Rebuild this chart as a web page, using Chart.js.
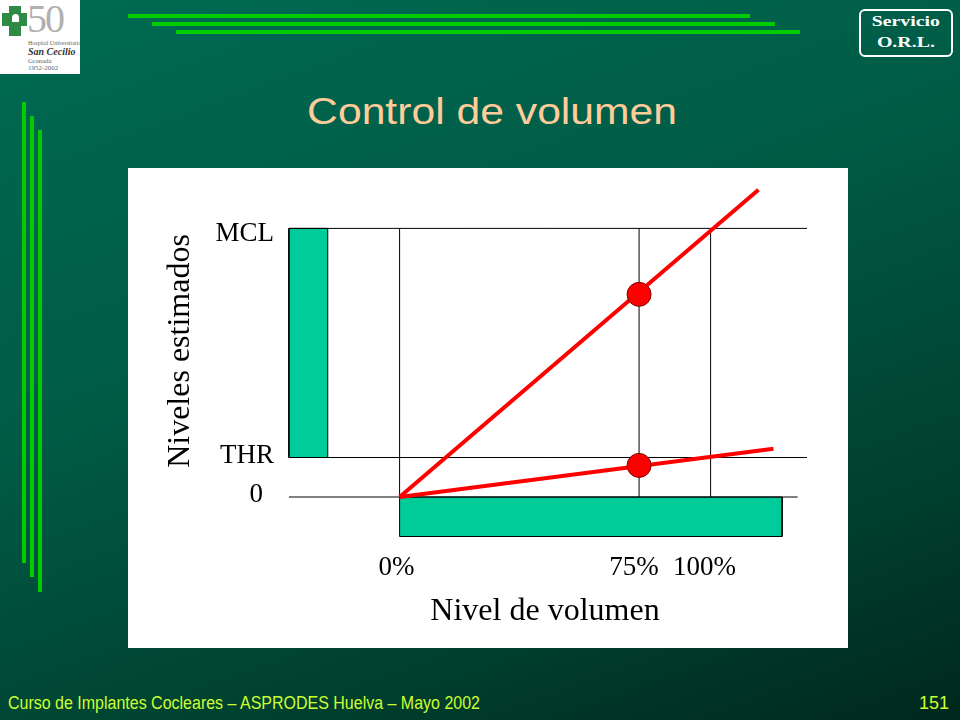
<!DOCTYPE html>
<html lang="es">
<head>
<meta charset="utf-8">
<title>Control de volumen</title>
<script src="https://cdn.jsdelivr.net/npm/chart.js@4.4.1/dist/chart.umd.min.js"></script>
<style>
html,body{margin:0;padding:0;}
body{width:960px;height:720px;overflow:hidden;position:relative;
  background:linear-gradient(160deg,#006a52 0%,#005c46 40%,#00412f 75%,#00281d 100%);
  font-family:"Liberation Sans",Arial,sans-serif;}
.abs{position:absolute;}
.barra{position:absolute;background:#00cc00;}
#logo{left:0;top:0;width:80px;height:74px;background:#fff;overflow:hidden;}
#logo .cv{position:absolute;left:9px;top:6px;width:12px;height:30px;background:#2f8a45;}
#logo .ch{position:absolute;left:2px;top:13px;width:25px;height:13px;background:#2f8a45;}
#logo .hueco{position:absolute;left:12px;top:14px;width:7px;height:8px;border-radius:50% 50% 0 0;background:#fff;}
#logo .cinco{position:absolute;left:27px;top:-5px;font:40px "Liberation Serif",serif;color:#b0b0b0;letter-spacing:-2px;}
#logo .t{position:absolute;left:28px;font-family:"Liberation Serif",serif;color:#666;white-space:nowrap;}
#servicio{left:859px;top:9px;width:90px;height:44px;border:2px solid #fff;border-radius:6px;
  color:#fff;font:bold 15px "Liberation Serif",serif;text-align:center;line-height:21px;}
#titulo{left:0;top:91px;width:984px;text-align:center;color:#ffcc99;font-size:36px;white-space:nowrap;}
#titulo span{display:inline-block;transform-origin:center;}
#caja{left:128px;top:168px;width:720px;height:480px;background:#fff;}
#pie{left:8px;top:693px;color:#ccff33;font-size:18px;white-space:nowrap;transform-origin:left center;}
#num{left:919px;top:693px;color:#ccff33;font-size:18px;}
</style>
</head>
<body>
<div id="logo" class="abs">
  <div class="cv"></div><div class="ch"></div><div class="hueco"></div>
  <div class="cinco">50</div>
  <div class="t" style="top:40px;font-size:6px;">Hospital Universitario</div>
  <div class="t" style="top:46px;font-size:10px;font-weight:bold;font-style:italic;color:#333;">San Cecilio</div>
  <div class="t" style="top:57px;font-size:7px;">Granada</div>
  <div class="t" style="top:64px;font-size:7px;">1952-2002</div>
</div>

<div class="barra" style="left:128px;top:14px;width:622px;height:4px;"></div>
<div class="barra" style="left:152px;top:22px;width:623px;height:4px;"></div>
<div class="barra" style="left:176px;top:30px;width:624px;height:4px;"></div>
<div class="barra" style="left:22px;top:102px;width:4px;height:461px;"></div>
<div class="barra" style="left:30px;top:116px;width:4px;height:461px;"></div>
<div class="barra" style="left:38px;top:130px;width:4px;height:462px;"></div>

<div id="servicio" class="abs"><span>Servicio</span><br><span>O.R.L.</span></div>

<div id="titulo" class="abs"><span>Control de volumen</span></div>

<div id="caja" class="abs"><canvas id="grafico" width="720" height="480"></canvas></div>

<div id="pie" class="abs">Curso de Implantes Cocleares – ASPRODES Huelva – Mayo 2002</div>
<div id="num" class="abs">151</div>

<script>
// ejes (% de volumen / niveles estimados); el 75% del esquema cae un poco a la derecha
const pctTicks=[0,77,100];
const pctLabels=['0%','75%','100%'];
const nivelTicks=[68,10,0];
const nivelLabels=['MCL','THR','0'];
const xMin=-40, xMax=140, yMin=-20, yMax=80;

// rectas de mapeo (volumen -> nivel)
const rectaAlta=[{x:0,y:0},{x:115.4,y:77.8}];
const rectaBaja=[{x:0,y:0},{x:120.2,y:12.2}];
const puntos75=[{x:77,y:51.3},{x:77,y:8}];

// rangos (barras verdes)
const rangoNiveles=[{x:-35.6,y:10},{x:-23.1,y:10},{x:-23.1,y:68},{x:-35.6,y:68},{x:-35.6,y:10}];
const rangoVolumen=[{x:0,y:0},{x:123,y:0},{x:123,y:-10},{x:0,y:-10},{x:0,y:0}];

// líneas de referencia
const lineaMCL=[{x:-35.6,y:68},{x:131,y:68}];
const lineaTHR=[{x:-35.6,y:10},{x:131,y:10}];
const lineaCero=[{x:-35.6,y:0},{x:128,y:0}];
const vert0=[{x:0,y:0},{x:0,y:68}];
const vert75=[{x:77,y:0},{x:77,y:68}];
const vert100=[{x:100,y:0},{x:100,y:68}];

const VERDE='#00cc99', ROJO='#ff0000';
const serif='"Liberation Serif","Times New Roman",serif';

function linea(data,color,ancho,orden){
  return {data,borderColor:color,borderWidth:ancho,pointRadius:0,fill:false,order:orden,tension:0};
}
function rect(data){
  return {data,borderColor:'#000',borderWidth:1,backgroundColor:VERDE,pointRadius:0,fill:'shape',order:5,tension:0};
}

const textos={
  id:'textos',
  afterDatasetsDraw(c){
    const ctx=c.ctx, xs=c.scales.x, ys=c.scales.y;
    ctx.save();
    ctx.fillStyle='#000';
    ctx.font='27px '+serif;
    ctx.textBaseline='middle';
    ctx.textAlign='right';
    const dy=[6,-1.5,-2], xr=[146,146,135];
    nivelLabels.forEach((t,i)=>ctx.fillText(t,xr[i],ys.getPixelForValue(nivelTicks[i])+dy[i]));
    ctx.textAlign='center';
    ctx.textBaseline='alphabetic';
    const dx=[-3,-5,-6];
    pctLabels.forEach((t,i)=>ctx.fillText(t,xs.getPixelForValue(pctTicks[i])+dx[i],407));
    ctx.font='32px '+serif;
    ctx.fillText('Nivel de volumen',417,452);
    ctx.translate(61,183);
    ctx.rotate(-Math.PI/2);
    ctx.fillText('Niveles estimados',0,0);
    ctx.restore();
  }
};

new Chart(document.getElementById('grafico'),{
  type:'line',
  data:{datasets:[
    rect(rangoNiveles),
    rect(rangoVolumen),
    linea(lineaMCL,'#000',1,4),
    linea(lineaTHR,'#000',1,4),
    linea(lineaCero,'#000',1,4),
    linea(vert0,'#000',1,4),
    linea(vert75,'#000',1,4),
    linea(vert100,'#000',1,4),
    linea(rectaAlta,ROJO,4,2),
    linea(rectaBaja,ROJO,4,2),
    {data:puntos75,showLine:false,pointRadius:12,pointHoverRadius:12,backgroundColor:ROJO,borderColor:'#7a0000',borderWidth:1,order:1}
  ]},
  options:{
    responsive:false,animation:false,
    layout:{padding:{left:147.2,right:11.2,top:8,bottom:72}},
    scales:{
      x:{type:'linear',min:xMin,max:xMax,display:false},
      y:{type:'linear',min:yMin,max:yMax,display:false}
    },
    plugins:{legend:{display:false},tooltip:{enabled:false}},
    events:[]
  },
  plugins:[textos]
});

// ajuste de ancho de los textos de la diapositiva
function ajustar(el,w){const n=el.getBoundingClientRect().width;el.style.display='inline-block';el.style.transform='scaleX('+(w/n)+')';}
ajustar(document.querySelector('#titulo span'),370);
const pie=document.getElementById('pie');pie.style.transform='scaleX('+(472/pie.getBoundingClientRect().width)+')';
document.querySelectorAll('#servicio span').forEach((s,i)=>{s.style.display='inline-block';s.style.transform='scaleX('+((i?58:68)/s.getBoundingClientRect().width)+')';});
</script>
</body>
</html>
